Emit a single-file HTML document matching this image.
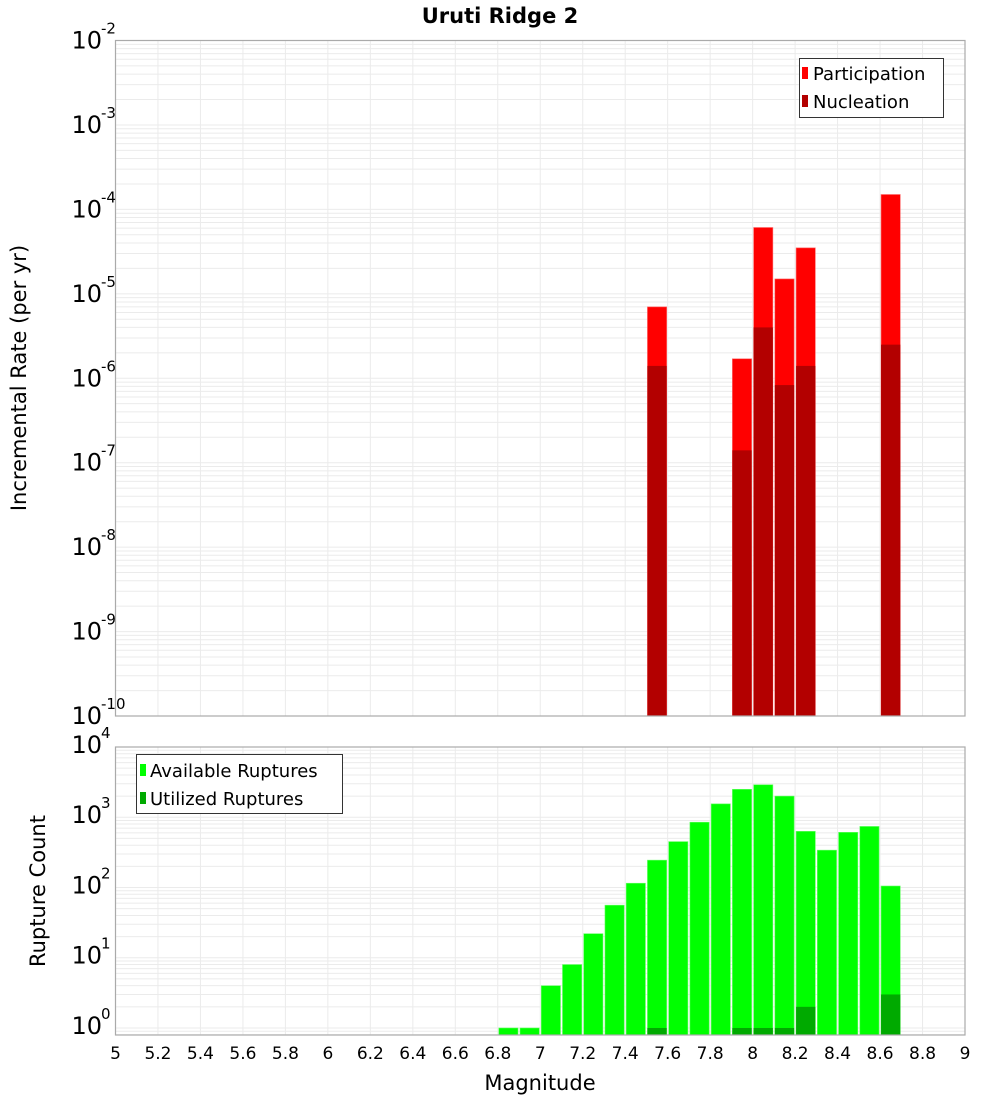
<!DOCTYPE html>
<html><head><meta charset="utf-8"><style>
html,body{margin:0;padding:0;background:#fff;}
svg{display:block;font-family:"DejaVu Sans","Liberation Sans",sans-serif;}
</style></head><body>
<svg id="chart" width="1000" height="1100" xmlns="http://www.w3.org/2000/svg"></svg>
<script>
const rateBins = [7.55, 7.95, 8.05, 8.15, 8.25, 8.65];
const participation = [7e-6, 1.7e-6, 6.1e-5, 1.5e-5, 3.5e-5, 1.5e-4];
const nucleation = [1.4e-6, 1.4e-7, 4e-6, 8.3e-7, 1.4e-6, 2.5e-6];
const countBins = [6.85, 6.95, 7.05, 7.15, 7.25, 7.35, 7.45, 7.55, 7.65, 7.75, 7.85, 7.95, 8.05, 8.15, 8.25, 8.35, 8.45, 8.55, 8.65];
const available = [1, 1, 4, 8, 22, 56, 115, 245, 450, 850, 1550, 2500, 2900, 2000, 630, 340, 610, 740, 105];
const utilizedBins = [7.55, 7.95, 8.05, 8.15, 8.25, 8.65];
const utilized = [1, 1, 1, 1, 2, 3];
const xTicks = [5, 5.2, 5.4, 5.6, 5.8, 6, 6.2, 6.4, 6.6, 6.8, 7, 7.2, 7.4, 7.6, 7.8, 8, 8.2, 8.4, 8.6, 8.8, 9];
const topExps = [-2, -3, -4, -5, -6, -7, -8, -9, -10];
const botExps = [4, 3, 2, 1, 0];

const NS = "http://www.w3.org/2000/svg";
const svg = document.getElementById('chart');
function mk(tag, attrs, parent) {
  const e = document.createElementNS(NS, tag);
  for (const k in attrs) e.setAttribute(k, attrs[k]);
  (parent || svg).appendChild(e);
  return e;
}
const L = 115.5, R = 965;
const xs = m => L + (m - 5) / 4 * (R - L);
const T1 = 40.5, B1 = 716, lo1 = -10, hi1 = -2;
const y1 = v => B1 - (Math.log10(v) - lo1) / (hi1 - lo1) * (B1 - T1);
const T2 = 747, B2 = 1035, lo2 = -0.1, hi2 = 4;
const y2 = v => B2 - (Math.log10(v) - lo2) / (hi2 - lo2) * (B2 - T2);

function grid(T, B, lo, hi, ys) {
  const g = mk('g', {});
  
  
  for (let d = Math.floor(lo); d < hi; d++) {
    for (let k = 1; k < 10; k++) {
      const v = k * Math.pow(10, d);
      const lv = Math.log10(v);
      if (lv < lo || lv > hi) continue;
      const y = ys(v);
      mk('line', {x1: L, x2: R, y1: y, y2: y, stroke: '#ebebeb', 'stroke-width': 1}, g);
    }
  }
  xTicks.forEach(t => {
    const x = xs(t);
    mk('line', {x1: x, x2: x, y1: T, y2: B, stroke: '#ebebeb', 'stroke-width': 1}, g);
  });
}
grid(T1, B1, lo1, hi1, y1);
grid(T2, B2, lo2, hi2, y2);

function bar(m, top, bottom, fill, name) {
  const r = mk('rect', {x: xs(m - 0.05) + 1, y: top, width: (R - L) * 0.1 / 4 - 2, height: bottom - top, fill: fill, stroke: fill === '#ff0000' ? '#ff6666' : (fill === '#00ff00' ? '#66ff66' : 'none'), 'stroke-width': 0.6});
  
  
}
rateBins.forEach((m, i) => bar(m, y1(participation[i]), B1, '#ff0000', 'participation-bar'));
rateBins.forEach((m, i) => bar(m, y1(nucleation[i]), B1, '#b30000', 'nucleation-bar'));
countBins.forEach((m, i) => bar(m, y2(available[i]), B2, '#00ff00', 'available-bar'));
utilizedBins.forEach((m, i) => bar(m, y2(utilized[i]), B2, '#00aa00', 'utilized-bar'));

// frames
[[T1, B1, 'top-plot-frame'], [T2, B2, 'bottom-plot-frame']].forEach(([T, B, n]) => {
  const r = mk('rect', {x: L, y: T, width: R - L, height: B - T, fill: 'none', stroke: '#aaaaaa', 'stroke-width': 1.2});
  
  
});

function ylab(exp, y, name) {
  const t = mk('text', {x: 102, y: y + 8, 'text-anchor': 'end', 'font-size': 24, fill: '#000'});
  t.textContent = '10';
  
  
  const s = mk('text', {x: 101, y: y - 7, 'font-size': 15, fill: '#000'});
  s.textContent = String(exp);
  
  
}
topExps.forEach(e => ylab(e, y1(Math.pow(10, e)), 'top-y-tick-label'));
botExps.forEach(e => ylab(e, y2(Math.pow(10, e)) - 2, 'bottom-y-tick-label'));

xTicks.forEach(t => {
  const tx = mk('text', {x: xs(t), y: 1059, 'text-anchor': 'middle', 'font-size': 17, fill: '#000'});
  tx.textContent = String(t);
  
  
});
</script>
<svg width="1000" height="1100" style="position:absolute;left:0;top:0;font-family:'DejaVu Sans','Liberation Sans',sans-serif" xmlns="http://www.w3.org/2000/svg">
  <text x="500" y="23" text-anchor="middle" font-size="21" font-weight="bold">Uruti Ridge 2</text>
  <text transform="translate(26,378) rotate(-90)" text-anchor="middle" font-size="21">Incremental Rate (per yr)</text>
  <text transform="translate(45,891) rotate(-90)" text-anchor="middle" font-size="21">Rupture Count</text>
  <text x="540" y="1090" text-anchor="middle" font-size="21">Magnitude</text>
  <g>
    <rect x="799.5" y="58.5" width="144" height="59" fill="#fff" stroke="#333" stroke-width="1"/>
    <rect x="802" y="67" width="6" height="12" fill="#ff0000"/>
    <text x="813" y="80" font-size="18">Participation</text>
    <rect x="802" y="95" width="6" height="12" fill="#b30000"/>
    <text x="813" y="108" font-size="18">Nucleation</text>
  </g>
  <g>
    <rect x="136.5" y="754.5" width="206" height="59" fill="#fff" stroke="#333" stroke-width="1"/>
    <rect x="140" y="764" width="6" height="12" fill="#00ff00"/>
    <text x="150" y="777" font-size="18">Available Ruptures</text>
    <rect x="140" y="792" width="6" height="12" fill="#00aa00"/>
    <text x="150" y="805" font-size="18">Utilized Ruptures</text>
  </g>
</svg>
</body></html>
